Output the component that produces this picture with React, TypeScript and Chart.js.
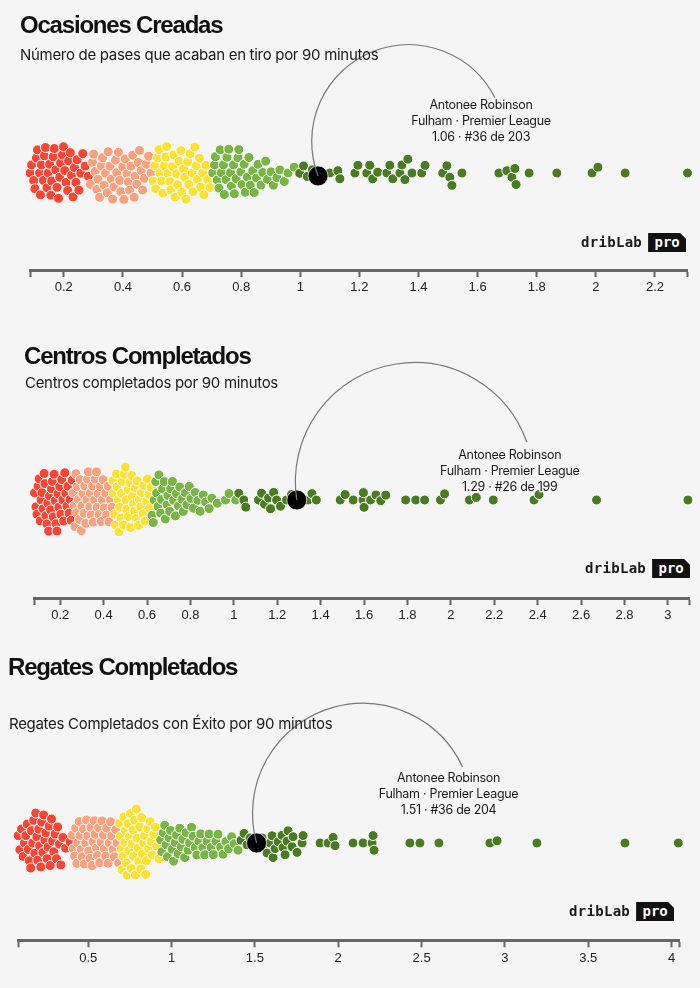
import React, { useEffect, useRef } from 'react';
import { Chart, registerables } from 'chart.js';

Chart.register(...registerables);

const BG = '#f5f5f5';
const QUINTILE_COLORS = ['#fb4433', '#fda07e', '#fde235', '#78b545', '#4a7a22'];
const PLAYER_NAME = 'Antonee Robinson';
const PLAYER_TEAM = 'Fulham · Premier League';

// ---------- Panel 1: Ocasiones Creadas ----------
const ocasionesValues = [
  0.086, 0.091, 0.098, 0.102, 0.107, 0.111, 0.118, 0.121, 0.124, 0.131, 0.134, 0.138, 0.143, 0.147, 0.152, 0.156, 0.159, 0.164, 0.168, 0.173,
  0.177, 0.182, 0.186, 0.189, 0.195, 0.199, 0.203, 0.208, 0.213, 0.216, 0.222, 0.226, 0.231, 0.236, 0.241, 0.245, 0.251, 0.257, 0.264, 0.272, 0.283,
  0.29, 0.297, 0.301, 0.306, 0.312, 0.316, 0.321, 0.327, 0.331, 0.336, 0.341, 0.347, 0.35, 0.356, 0.361, 0.365, 0.37, 0.375, 0.379, 0.385,
  0.389, 0.393, 0.399, 0.403, 0.408, 0.414, 0.418, 0.423, 0.427, 0.433, 0.438, 0.441, 0.447, 0.452, 0.456, 0.462, 0.467, 0.473, 0.48, 0.487, 0.495,
  0.502, 0.508, 0.511, 0.517, 0.522, 0.525, 0.531, 0.535, 0.539, 0.545, 0.548, 0.553, 0.559, 0.562, 0.568, 0.572, 0.576, 0.582, 0.585, 0.59,
  0.596, 0.599, 0.605, 0.609, 0.613, 0.619, 0.623, 0.627, 0.634, 0.637, 0.643, 0.648, 0.652, 0.659, 0.663, 0.67, 0.674, 0.681, 0.687, 0.695,
  0.704, 0.71, 0.713, 0.719, 0.725, 0.729, 0.733, 0.74, 0.743, 0.749, 0.752, 0.758, 0.764, 0.767, 0.774, 0.777, 0.783, 0.789, 0.792, 0.799,
  0.803, 0.81, 0.814, 0.821, 0.826, 0.831, 0.839, 0.844, 0.852, 0.857, 0.867, 0.873, 0.883, 0.889, 0.901, 0.909, 0.921, 0.931, 0.946, 0.959, 0.979,
  0.998, 1.011, 1.024, 1.041, 1.06, 1.1, 1.127, 1.134, 1.185, 1.195, 1.225, 1.235, 1.245, 1.262, 1.293, 1.303, 1.313, 1.337, 1.344, 1.354,
  1.364, 1.378, 1.411, 1.422, 1.482, 1.496, 1.506, 1.513, 1.547, 1.672, 1.699, 1.716, 1.726, 1.73, 1.774, 1.868, 1.987, 2.007, 2.099, 2.31,
];
const ocasionesPlayer = 1.06;
const ocasionesAxisRange = [0.0856, 2.31];
const ocasionesTicks = [0.2, 0.4, 0.6, 0.8, 1, 1.2, 1.4, 1.6, 1.8, 2, 2.2];
const ocasionesTickLabels = ['0.2', '0.4', '0.6', '0.8', '1', '1.2', '1.4', '1.6', '1.8', '2', '2.2'];

// ---------- Panel 2: Centros Completados ----------
const centrosValues = [
  0.076, 0.082, 0.088, 0.093, 0.098, 0.103, 0.108, 0.112, 0.117, 0.121, 0.126, 0.13, 0.134, 0.139, 0.143, 0.147, 0.151, 0.156, 0.16, 0.164,
  0.168, 0.172, 0.177, 0.181, 0.185, 0.19, 0.194, 0.198, 0.203, 0.207, 0.212, 0.216, 0.221, 0.226, 0.231, 0.236, 0.241, 0.246, 0.251, 0.256,
  0.261, 0.265, 0.268, 0.272, 0.276, 0.279, 0.284, 0.289, 0.292, 0.297, 0.3, 0.305, 0.31, 0.313, 0.318, 0.323, 0.326, 0.33, 0.336, 0.339,
  0.343, 0.349, 0.352, 0.358, 0.361, 0.367, 0.37, 0.376, 0.379, 0.385, 0.389, 0.395, 0.398, 0.404, 0.41, 0.414, 0.421, 0.425, 0.432, 0.439,
  0.443, 0.446, 0.451, 0.456, 0.459, 0.462, 0.468, 0.471, 0.474, 0.48, 0.483, 0.486, 0.492, 0.495, 0.5, 0.503, 0.507, 0.513, 0.515, 0.521,
  0.524, 0.53, 0.533, 0.537, 0.543, 0.546, 0.552, 0.555, 0.561, 0.565, 0.572, 0.575, 0.582, 0.585, 0.591, 0.598, 0.602, 0.609, 0.612, 0.619,
  0.623, 0.629, 0.633, 0.64, 0.644, 0.651, 0.655, 0.663, 0.667, 0.672, 0.68, 0.684, 0.692, 0.696, 0.704, 0.709, 0.717, 0.722, 0.731, 0.736,
  0.745, 0.751, 0.761, 0.767, 0.777, 0.784, 0.795, 0.802, 0.814, 0.822, 0.835, 0.845, 0.859, 0.87, 0.886, 0.899, 0.924, 0.962, 0.978,
  1.009, 1.023, 1.046, 1.055, 1.114, 1.128, 1.142, 1.16, 1.169, 1.183, 1.197, 1.215, 1.243, 1.266, 1.29, 1.343, 1.36, 1.38, 1.49, 1.513,
  1.55, 1.595, 1.597, 1.6, 1.63, 1.655, 1.677, 1.7, 1.792, 1.838, 1.879, 1.952, 1.971, 2.085, 2.117, 2.195, 2.383, 2.406, 2.671, 3.092,
];
const centrosPlayer = 1.29;
const centrosAxisRange = [0.083, 3.097];
const centrosTicks = [0.2, 0.4, 0.6, 0.8, 1, 1.2, 1.4, 1.6, 1.8, 2, 2.2, 2.4, 2.6, 2.8, 3];
const centrosTickLabels = ['0.2', '0.4', '0.6', '0.8', '1', '1.2', '1.4', '1.6', '1.8', '2', '2.2', '2.4', '2.6', '2.8', '3'];

// ---------- Panel 3: Regates Completados ----------
const regatesValues = [
  0.07, 0.08, 0.09, 0.1, 0.11, 0.118, 0.126, 0.134, 0.141, 0.147, 0.155, 0.16, 0.167, 0.173, 0.18, 0.185, 0.192, 0.197, 0.204, 0.209,
  0.216, 0.221, 0.228, 0.233, 0.24, 0.246, 0.253, 0.259, 0.266, 0.272, 0.28, 0.286, 0.294, 0.301, 0.31, 0.317, 0.327, 0.336, 0.348, 0.365, 0.391,
  0.405, 0.411, 0.419, 0.425, 0.432, 0.438, 0.446, 0.451, 0.459, 0.464, 0.472, 0.477, 0.485, 0.49, 0.498, 0.503, 0.511, 0.516, 0.524, 0.529,
  0.537, 0.542, 0.55, 0.556, 0.563, 0.569, 0.577, 0.583, 0.591, 0.597, 0.605, 0.611, 0.619, 0.626, 0.634, 0.641, 0.65, 0.657, 0.666, 0.673, 0.683,
  0.689, 0.693, 0.699, 0.703, 0.709, 0.713, 0.719, 0.723, 0.729, 0.733, 0.739, 0.743, 0.749, 0.753, 0.759, 0.763, 0.769, 0.773, 0.779, 0.783,
  0.789, 0.793, 0.8, 0.804, 0.81, 0.815, 0.821, 0.826, 0.833, 0.838, 0.845, 0.85, 0.857, 0.863, 0.871, 0.877, 0.886, 0.893, 0.903, 0.912, 0.925,
  0.935, 0.942, 0.951, 0.959, 0.968, 0.976, 0.986, 0.994, 1.004, 1.012, 1.022, 1.03, 1.04, 1.049, 1.059, 1.068, 1.079, 1.088, 1.099, 1.108,
  1.12, 1.13, 1.142, 1.152, 1.164, 1.175, 1.188, 1.199, 1.213, 1.225, 1.239, 1.251, 1.266, 1.279, 1.295, 1.309, 1.326, 1.342, 1.36, 1.377,
  1.399, 1.417, 1.435, 1.453, 1.471, 1.51, 1.543, 1.549, 1.573, 1.591, 1.603, 1.609, 1.621, 1.64, 1.663, 1.669, 1.681, 1.693, 1.699, 1.723,
  1.729, 1.753, 1.783, 1.789, 1.891, 1.939, 1.969, 1.981, 2.089, 2.149, 2.203, 2.209, 2.215, 2.43, 2.49, 2.604, 2.91, 2.953, 3.192, 3.72, 4.04,
];
const regatesPlayer = 1.51;
const regatesAxisRange = [0.0837, 4.046];
const regatesTicks = [0.5, 1, 1.5, 2, 2.5, 3, 3.5, 4];
const regatesTickLabels = ['0.5', '1', '1.5', '2', '2.5', '3', '3.5', '4'];

type PanelCfg = {
  title: string;
  subtitle: string;
  values: number[];
  player: number;
  range: number[];
  ticks: number[];
  tickLabels: string[];
  top: number;
  height: number;
  padLeft: number;
  padRight: number;
  padBottom: number;
  centerY: number;
  gap: number;
  titleLeft: number;
  titleTop: number;
  subLeft: number;
  subTop: number;
  logoLeft: number;
  logoTop: number;
  endDx: number;
  endDy: number;
  sag: number;
  labelDx: number;
  labelDy: number;
};

// endDy / labelDy are measured from the swarm centre line
const PANELS: PanelCfg[] = [
  {
    title: 'Ocasiones Creadas', subtitle: 'Número de pases que acaban en tiro por 90 minutos',
    values: ocasionesValues, player: ocasionesPlayer, range: ocasionesAxisRange, ticks: ocasionesTicks, tickLabels: ocasionesTickLabels,
    top: 0, height: 300, padLeft: 30, padRight: 12.5, padBottom: 1.4, centerY: 173, gap: 8.3,
    titleLeft: 20, titleTop: 13.2, subLeft: 20, subTop: 47,
    logoLeft: 581, logoTop: 233,
    endDx: 177, endDy: -75, sag: 5, labelDx: 163, labelDy: -68,
  },
  {
    title: 'Centros Completados', subtitle: 'Centros completados por 90 minutos',
    values: centrosValues, player: centrosPlayer, range: centrosAxisRange, ticks: centrosTicks, tickLabels: centrosTickLabels,
    top: 310, height: 320, padLeft: 34.8, padRight: 7.1, padBottom: 3.4, centerY: 190, gap: 7.4,
    titleLeft: 24, titleTop: 343.7, subLeft: 25, subTop: 375,
    logoLeft: 585, logoTop: 559,
    endDx: 230, endDy: -58, sag: 11, labelDx: 213, labelDy: -45,
  },
  {
    title: 'Regates Completados', subtitle: 'Regates Completados con Éxito por 90 minutos',
    values: regatesValues, player: regatesPlayer, range: regatesAxisRange, ticks: regatesTicks, tickLabels: regatesTickLabels,
    top: 640, height: 340, padLeft: 18.8, padRight: 20.7, padBottom: 11.1, centerY: 203, gap: 7.5,
    titleLeft: 8, titleTop: 654.7, subLeft: 9, subTop: 716,
    logoLeft: 569, logoTop: 902,
    endDx: 206, endDy: -76, sag: 9, labelDx: 192, labelDy: -65,
  },
];

function swarm(xs: number[], D: number): number[] {
  const order = xs.map((_, i) => i).sort((a, b) => xs[a] - xs[b]);
  const ys = new Array(xs.length).fill(0);
  const placed: number[] = [];
  for (const i of order) {
    const x = xs[i];
    const near = placed.filter((j) => Math.abs(xs[j] - x) < D);
    const cands = [0];
    for (const j of near) {
      const h = Math.sqrt(D * D - (xs[j] - x) ** 2);
      cands.push(ys[j] + h, ys[j] - h);
    }
    cands.sort((a, b) => Math.abs(a) - Math.abs(b));
    for (const c of cands) {
      if (near.every((j) => (xs[j] - x) ** 2 + (ys[j] - c) ** 2 >= D * D - 1e-6)) {
        ys[i] = c;
        break;
      }
    }
    placed.push(i);
  }
  return ys;
}

function Panel({ cfg }: { cfg: PanelCfg }) {
  const ref = useRef<HTMLCanvasElement>(null);
  useEffect(() => {
    if (!ref.current) return;
    const n = cfg.values.length;
    const sortedIdx = cfg.values.map((_, i) => i).sort((a, b) => cfg.values[a] - cfg.values[b]);
    const colors: string[] = new Array(n);
    sortedIdx.forEach((idx, r) => {
      colors[idx] = QUINTILE_COLORS[Math.floor((r * 5) / n)];
    });
    const hi = cfg.values.indexOf(cfg.player);
    const rank = cfg.values.filter((v) => v > cfg.player).length + 1;
    const labelLines = [PLAYER_NAME, PLAYER_TEAM, `${cfg.player.toFixed(2)} · #${rank} de ${n}`];
    const [minV, maxV] = cfg.range;

    const annotation = {
      id: 'playerArc',
      afterDatasetsDraw(chart: any) {
        const meta = chart.getDatasetMeta(0);
        const p = meta.data[0];
        if (!p) return;
        const ctx = chart.ctx;
        const baseY = chart.scales.y.getPixelForValue(0);
        const S = { x: p.x, y: p.y };
        const E = { x: S.x + cfg.endDx, y: baseY + cfg.endDy };
        const dx = E.x - S.x, dy = E.y - S.y;
        const d = Math.hypot(dx, dy);
        const nx = -dy / d, ny = dx / d;
        const cx = (S.x + E.x) / 2 + cfg.sag * nx;
        const cy = (S.y + E.y) / 2 + cfg.sag * ny;
        const r = Math.hypot(S.x - cx, S.y - cy);
        const a1 = Math.atan2(S.y - cy, S.x - cx);
        const a2 = Math.atan2(E.y - cy, E.x - cx);
        ctx.save();
        ctx.beginPath();
        ctx.arc(cx, cy, r, a1, a2, false);
        ctx.strokeStyle = '#777';
        ctx.lineWidth = 1.2;
        ctx.stroke();
        ctx.font = '12.5px Inter, sans-serif';
        (ctx as any).letterSpacing = '-0.3px';
        ctx.textAlign = 'center';
        ctx.textBaseline = 'middle';
        labelLines.forEach((line, i) => {
          const lx = S.x + cfg.labelDx;
          const ly = baseY + cfg.labelDy + i * 16;
          ctx.strokeStyle = 'rgba(245,245,245,0.9)';
          ctx.lineWidth = 3;
          ctx.lineJoin = 'round';
          ctx.strokeText(line, lx, ly);
          ctx.fillStyle = '#1a1a1a';
          ctx.fillText(line, lx, ly);
        });
        ctx.restore();
      },
    };

    const chart = new Chart(ref.current, {
      type: 'scatter',
      data: {
        datasets: [
          {
            data: [{ x: cfg.player, y: 0 }],
            pointRadius: 10,
            pointBackgroundColor: '#000',
            pointBorderColor: 'rgba(255,255,255,0.7)',
            pointBorderWidth: 1,
            order: 0,
            clip: false,
          } as any,
          {
            data: cfg.values.map((v) => ({ x: v, y: 0 })),
            pointRadius: 5,
            pointBackgroundColor: colors,
            pointBorderColor: '#ffffff',
            pointBorderWidth: 1,
            order: 1,
            clip: false,
          } as any,
        ],
      },
      options: {
        animation: false,
        responsive: false,
        maintainAspectRatio: false,
        events: [],
        layout: { padding: { left: cfg.padLeft, right: cfg.padRight, top: 0, bottom: cfg.padBottom } },
        plugins: { legend: { display: false }, tooltip: { enabled: false } },
        scales: {
          x: {
            type: 'linear',
            min: minV,
            max: maxV,
            afterBuildTicks: (axis: any) => {
              axis.ticks = [minV, ...cfg.ticks, maxV].map((v) => ({ value: v }));
            },
            ticks: {
              autoSkip: false,
              maxRotation: 0,
              padding: 3,
              color: '#222',
              font: { family: "'Liberation Sans Narrow', 'Arial Narrow', 'Liberation Sans', sans-serif", size: 13 },
              callback: (_v: any, i: number, ticks: any[]) =>
                i === 0 || i === ticks.length - 1 ? '' : cfg.tickLabels[i - 1],
            },
            grid: { drawOnChartArea: false, drawTicks: true, tickLength: 7, tickWidth: 2, tickColor: '#666' },
            border: { display: true, width: 3, color: '#666' },
          },
          y: { display: false, min: -100, max: 100 },
        },
      } as any,
      plugins: [annotation],
    });

    const area = chart.chartArea;
    const xScale = chart.scales.x;
    const xs = cfg.values.map((v) => xScale.getPixelForValue(v));
    const ys = swarm(xs, cfg.gap);
    (chart.options.scales as any).y.min = -(area.bottom - cfg.centerY);
    (chart.options.scales as any).y.max = cfg.centerY - area.top;
    chart.data.datasets[1].data = cfg.values.map((v, i) => ({ x: v, y: ys[i] }));
    chart.data.datasets[0].data = [{ x: cfg.player, y: ys[hi] }];
    chart.update();

    return () => chart.destroy();
  }, [cfg]);

  return (
    <canvas
      ref={ref}
      width={700}
      height={cfg.height}
      style={{ position: 'absolute', left: 0, top: cfg.top, width: 700, height: cfg.height, display: 'block' }}
    />
  );
}

function Logo({ left, top }: { left: number; top: number }) {
  return (
    <div style={{ position: 'absolute', left, top, height: 19, display: 'flex', alignItems: 'center' }}>
      <span
        style={{
          fontFamily: "'DejaVu Sans Mono', monospace",
          fontWeight: 700,
          fontSize: 14,
          letterSpacing: '0.3px',
          color: '#1a1a1a',
          lineHeight: '19px',
          marginRight: 6,
        }}
      >
        dribLab
      </span>
      <span
        style={{
          display: 'inline-block',
          width: 38,
          height: 19,
          background: '#111',
          color: '#fff',
          fontFamily: "'DejaVu Sans Mono', monospace",
          fontWeight: 700,
          fontSize: 14,
          lineHeight: '19px',
          textAlign: 'center',
          clipPath: 'polygon(0 0, calc(100% - 6px) 0, 100% 6px, 100% 100%, 0 100%)',
        }}
      >
        pro
      </span>
    </div>
  );
}

export default function App() {
  useEffect(() => {
    document.body.style.margin = '0';
    document.body.style.background = BG;
  }, []);
  return (
    <div style={{ position: 'relative', width: 700, height: 988, background: BG, overflow: 'hidden' }}>
      {PANELS.map((p, i) => (
        <React.Fragment key={i}>
          <Panel cfg={p} />
          <div
            style={{
              position: 'absolute', left: p.titleLeft, top: p.titleTop, fontFamily: "'Liberation Sans', Arial, sans-serif", fontWeight: 700,
              fontSize: 24, lineHeight: '24px', letterSpacing: '-1.2px', color: '#111', whiteSpace: 'nowrap',
            }}
          >
            {p.title}
          </div>
          <div
            style={{
              position: 'absolute', left: p.subLeft, top: p.subTop, fontFamily: 'Inter, sans-serif', fontWeight: 400,
              fontSize: 15, lineHeight: '15px', letterSpacing: '-0.3px', color: '#1a1a1a', whiteSpace: 'nowrap',
            }}
          >
            {p.subtitle}
          </div>
          <Logo left={p.logoLeft} top={p.logoTop} />
        </React.Fragment>
      ))}
    </div>
  );
}
